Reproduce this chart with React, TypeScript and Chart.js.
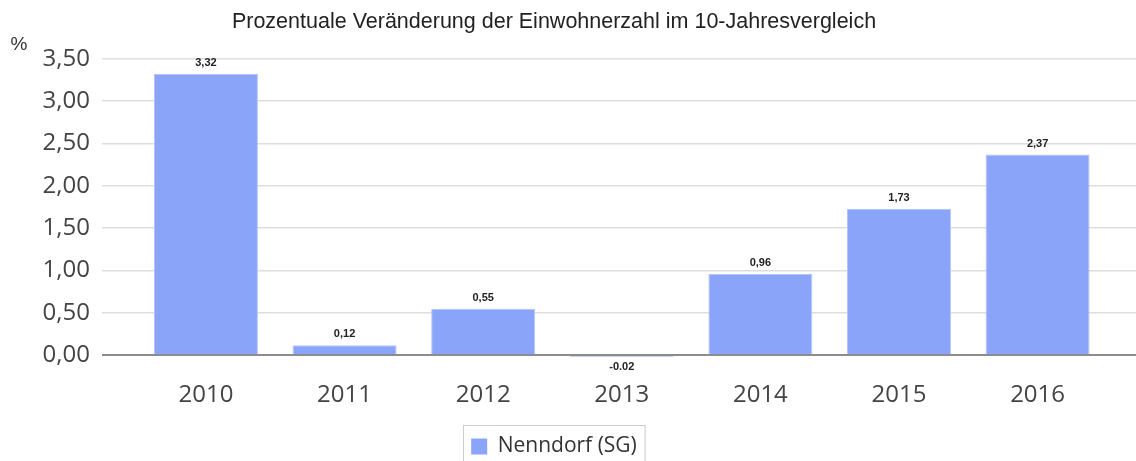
import React, { useEffect, useRef } from "react";
import { Chart, registerables } from "chart.js";

Chart.register(...registerables);

const years = ["2010", "2011", "2012", "2013", "2014", "2015", "2016"];
const values = [3.32, 0.12, 0.55, -0.02, 0.96, 1.73, 2.37];
const valueLabels = ["3,32", "0,12", "0,55", "-0.02", "0,96", "1,73", "2,37"];
const yTicks = [0, 0.5, 1, 1.5, 2, 2.5, 3, 3.5];
const seriesName = "Nenndorf (SG)";
const titleText = "Prozentuale Veränderung der Einwohnerzahl im 10-Jahresvergleich";
const unitText = "%";

const BAR = "#89a4f8";
const BAR_EDGE = "#b3c4fb";
const TICK_FONT = "'Open Sans', 'DejaVu Sans', sans-serif";

const fmt = (v: number) => v.toFixed(2).replace(".", ",");

export default function App() {
  const ref = useRef<HTMLCanvasElement | null>(null);
  useEffect(() => {
    if (!ref.current) return;
    const extras = {
      id: "extras",
      afterDatasetsDraw(chart: any) {
        const ctx = chart.ctx;
        const meta = chart.getDatasetMeta(0);
        ctx.save();
        ctx.font = "bold 11px 'Liberation Sans', Arial, sans-serif";
        ctx.fillStyle = "#222";
        ctx.textAlign = "center";
        ctx.textBaseline = "middle";
        meta.data.forEach((bar: any, i: number) => {
          const v = values[i];
          const y = v >= 0 ? bar.y - 11 : bar.y + 10;
          ctx.fillText(valueLabels[i], bar.x, y);
        });
        ctx.restore();
      },
      afterDraw(chart: any) {
        const ctx = chart.ctx;
        ctx.save();
        ctx.font = "19px 'Liberation Sans', Arial, sans-serif";
        ctx.fillStyle = "#333";
        ctx.textAlign = "center";
        ctx.textBaseline = "middle";
        ctx.fillText(unitText, 47, 45);
        const lg = chart.legend;
        if (lg && lg.legendHitBoxes && lg.legendHitBoxes[0]) {
          const hb = lg.legendHitBoxes[0];
          ctx.strokeStyle = "#cccccc";
          ctx.lineWidth = 1;
          ctx.strokeRect(Math.round(hb.left) - 7.5, Math.round(hb.top) - 10.5, hb.width + 16, 60);
        }
        ctx.restore();
      },
    };
    const chart = new Chart(ref.current, {
      type: "bar",
      data: {
        datasets: [
          {
            label: seriesName,
            data: values.map((v, i) => ({ x: i, y: v })),
            backgroundColor: BAR,
            borderColor: BAR_EDGE,
            borderWidth: 1,
            barPercentage: 0.75,
            categoryPercentage: 1,
          },
        ],
      },
      options: {
        animation: false,
        responsive: false,
        maintainAspectRatio: false,
        layout: { padding: { left: 0, right: 0, top: 0, bottom: 0 } },
        plugins: {
          title: {
            display: true,
            text: titleText,
            color: "#222",
            font: { family: "'Liberation Sans', Arial, sans-serif", size: 21.5, weight: "normal" },
            padding: { top: 9, bottom: 24 },
          },
          legend: {
            display: true,
            position: "bottom",
            labels: {
              color: "#333",
              font: { family: TICK_FONT, size: 21 },
              boxWidth: 16,
              boxHeight: 16,
              padding: 10,
              generateLabels: () => [
                {
                  text: seriesName,
                  fillStyle: BAR,
                  strokeStyle: BAR,
                  lineWidth: 0,
                  hidden: false,
                  datasetIndex: 0,
                  fontColor: "#333",
                },
              ],
            },
          },
          tooltip: { enabled: false },
        },
        scales: {
          x: {
            type: "linear",
            offset: false,
            min: -0.75,
            max: 6.71,
            grid: { display: false, drawTicks: false },
            border: { display: false },
            afterBuildTicks: (axis: any) => {
              axis.ticks = years.map((_, i) => ({ value: i }));
            },
            afterFit: (scale: any) => {
              scale.height = 69;
            },
            ticks: {
              color: "#444",
              padding: 24,
              autoSkip: false,
              maxRotation: 0,
              font: { family: TICK_FONT, size: 24 },
              callback: (v: any) => years[Math.round(Number(v))] ?? "",
            },
          },
          y: {
            min: -0.02,
            max: 3.5,
            afterBuildTicks: (axis: any) => {
              axis.ticks = yTicks.map((v) => ({ value: v }));
            },
            afterFit: (scale: any) => {
              scale.width = 130;
            },
            grid: {
              drawTicks: false,
              color: (c: any) => (c.tick && c.tick.value === 0 ? "#8c8c8c" : "#dedede"),
              lineWidth: (c: any) => (c.tick && c.tick.value === 0 ? 2 : 1.5),
            },
            border: { display: false },
            ticks: {
              color: "#444",
              padding: 12,
              font: { family: TICK_FONT, size: 24 },
              callback: (v: any) => fmt(Number(v)),
            },
          },
        },
      },
      plugins: [extras],
    });
    return () => chart.destroy();
  }, []);
  return (
    <div style={{ position: "absolute", left: -28, top: 0, width: 1164, height: 467 }}>
      <canvas ref={ref} width={1164} height={467} style={{ display: "block" }} />
    </div>
  );
}
